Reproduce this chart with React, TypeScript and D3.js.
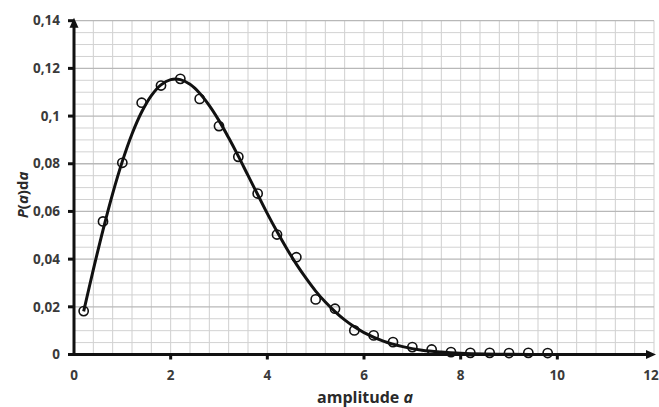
import React from "react";
import * as d3 from "d3";

const pointX = [0.2, 0.6, 1.0, 1.4, 1.8, 2.2, 2.6, 3.0, 3.4, 3.8, 4.2, 4.6, 5.0, 5.4, 5.8, 6.2, 6.6, 7.0, 7.4, 7.8, 8.2, 8.6, 9.0, 9.4, 9.8];
const pointY = [0.018, 0.0556, 0.0802, 0.1054, 0.1126, 0.1154, 0.107, 0.0956, 0.0827, 0.0673, 0.0501, 0.0406, 0.0229, 0.019, 0.0099, 0.0078, 0.005, 0.0029, 0.0019, 0.0008, 0.0005, 0.0005, 0.0004, 0.0005, 0.0004];

const curveX = [0.2, 0.4, 0.6, 0.8, 1.0, 1.2, 1.4, 1.6, 1.8, 2.0, 2.2, 2.4, 2.6, 2.8, 3.0, 3.2, 3.4, 3.6, 3.8, 4.0, 4.2, 4.4, 4.6, 4.8, 5.0, 5.2, 5.4, 5.6, 5.8, 6.0, 6.4, 6.8, 7.2, 7.6, 8.0, 8.5, 9.0, 10.0];
const curveY = [0.0181, 0.0356, 0.0522, 0.0675, 0.081, 0.0925, 0.1017, 0.1086, 0.1131, 0.1153, 0.1153, 0.1133, 0.1096, 0.1044, 0.0981, 0.0909, 0.0832, 0.0751, 0.0671, 0.0591, 0.0516, 0.0445, 0.0379, 0.032, 0.0266, 0.022, 0.018, 0.0145, 0.0116, 0.0092, 0.0056, 0.0033, 0.0018, 0.001, 0.0005, 0.0002, 0.0001, 0.0];

const xTicks = [0, 2, 4, 6, 8, 10, 12];
const yTicks = [0, 0.02, 0.04, 0.06, 0.08, 0.1, 0.12, 0.14];
const yTickLabels = ["0", "0,02", "0,04", "0,06", "0,08", "0,1", "0,12", "0,14"];

const W = 659;
const H = 407;

export default function App() {
  const x = d3.scaleLinear().domain([0, 12]).range([74, 654]);
  const y = d3.scaleLinear().domain([0, 0.14]).range([354.5, 20.7]);

  const vGrid = d3.range(1, 31).map((i) => i * 0.4);
  const hGrid = d3.range(1, 29).map((i) => i * 0.005);

  const line = d3
    .line<number>()
    .x((_, i) => x(curveX[i]))
    .y((d) => y(d))
    .curve(d3.curveCatmullRom.alpha(0.5));

  const font = "'Open Sans', 'DejaVu Sans', sans-serif";
  const x0 = x(0);
  const y0 = y(0);

  return (
    <svg width={W} height={H} style={{ position: "absolute", left: 0, top: 0, background: "#fff" }}>
      <g>
        {vGrid.map((v, i) => (
          <line key={"v" + i} x1={x(v)} x2={x(v)} y1={y(0)} y2={y(0.14)} stroke="#cfcfcf" strokeWidth={1} />
        ))}
        {hGrid.map((v, i) => {
          const major = Math.abs(v / 0.02 - Math.round(v / 0.02)) < 1e-6;
          return (
            <line key={"h" + i} x1={x(0)} x2={x(12)} y1={y(v)} y2={y(v)} stroke={major ? "#b8b8b8" : "#d2d2d2"} strokeWidth={major ? 1.3 : 1} />
          );
        })}
      </g>
      <path d={line(curveY) || ""} fill="none" stroke="#111" strokeWidth={3} />
      {pointX.map((px, i) => (
        <circle key={"p" + i} cx={x(px)} cy={y(pointY[i]) - 0.5} r={4.6} fill="none" stroke="#111" strokeWidth={1.6} />
      ))}
      <line x1={x0} x2={x0} y1={y0 + 1.5} y2={y(0.14) + 2} stroke="#111" strokeWidth={3} />
      <path d={`M${x0 - 4.5},${y(0.14) + 7} L${x0},${y(0.14) - 3} L${x0 + 4.5},${y(0.14) + 7} Z`} fill="#111" />
      <line x1={x0 - 1.5} x2={x(12) - 3} y1={y0} y2={y0} stroke="#111" strokeWidth={3} />
      <path d={`M${x(12) - 8},${y0 - 4.5} L${x(12) + 2},${y0} L${x(12) - 8},${y0 + 4.5} Z`} fill="#111" />
      {yTicks.map((t, i) => (
        <g key={"yt" + i}>
          <line x1={x0 - 6} x2={x0} y1={y(t)} y2={y(t)} stroke="#111" strokeWidth={3} />
          <text x={60} y={y(t)} dy="0.35em" textAnchor="end" fontFamily={font} fontWeight={700} fontSize={13.5} fill="#3a3a3a">
            {yTickLabels[i]}
          </text>
        </g>
      ))}
      {xTicks.map((t, i) => (
        <g key={"xt" + i}>
          {t > 0 && t < 12 && <line x1={x(t)} x2={x(t)} y1={y0} y2={y0 + 5} stroke="#111" strokeWidth={3} />}
          <text x={t === 12 ? x(t) - 3 : x(t)} y={380} textAnchor="middle" fontFamily={font} fontWeight={700} fontSize={13.5} fill="#3a3a3a">
            {t}
          </text>
        </g>
      ))}
      <text x={365} y={403} textAnchor="middle" fontFamily={font} fontWeight={700} fontSize={16} fill="#2a2a2a">
        amplitude <tspan fontStyle="italic">a</tspan>
      </text>
      <text transform="translate(28,195) rotate(-90)" textAnchor="middle" fontFamily={font} fontWeight={700} fontSize={15} fill="#2a2a2a">
        <tspan fontStyle="italic">P</tspan>(<tspan fontStyle="italic">a</tspan>)d<tspan fontStyle="italic">a</tspan>
      </text>
    </svg>
  );
}
